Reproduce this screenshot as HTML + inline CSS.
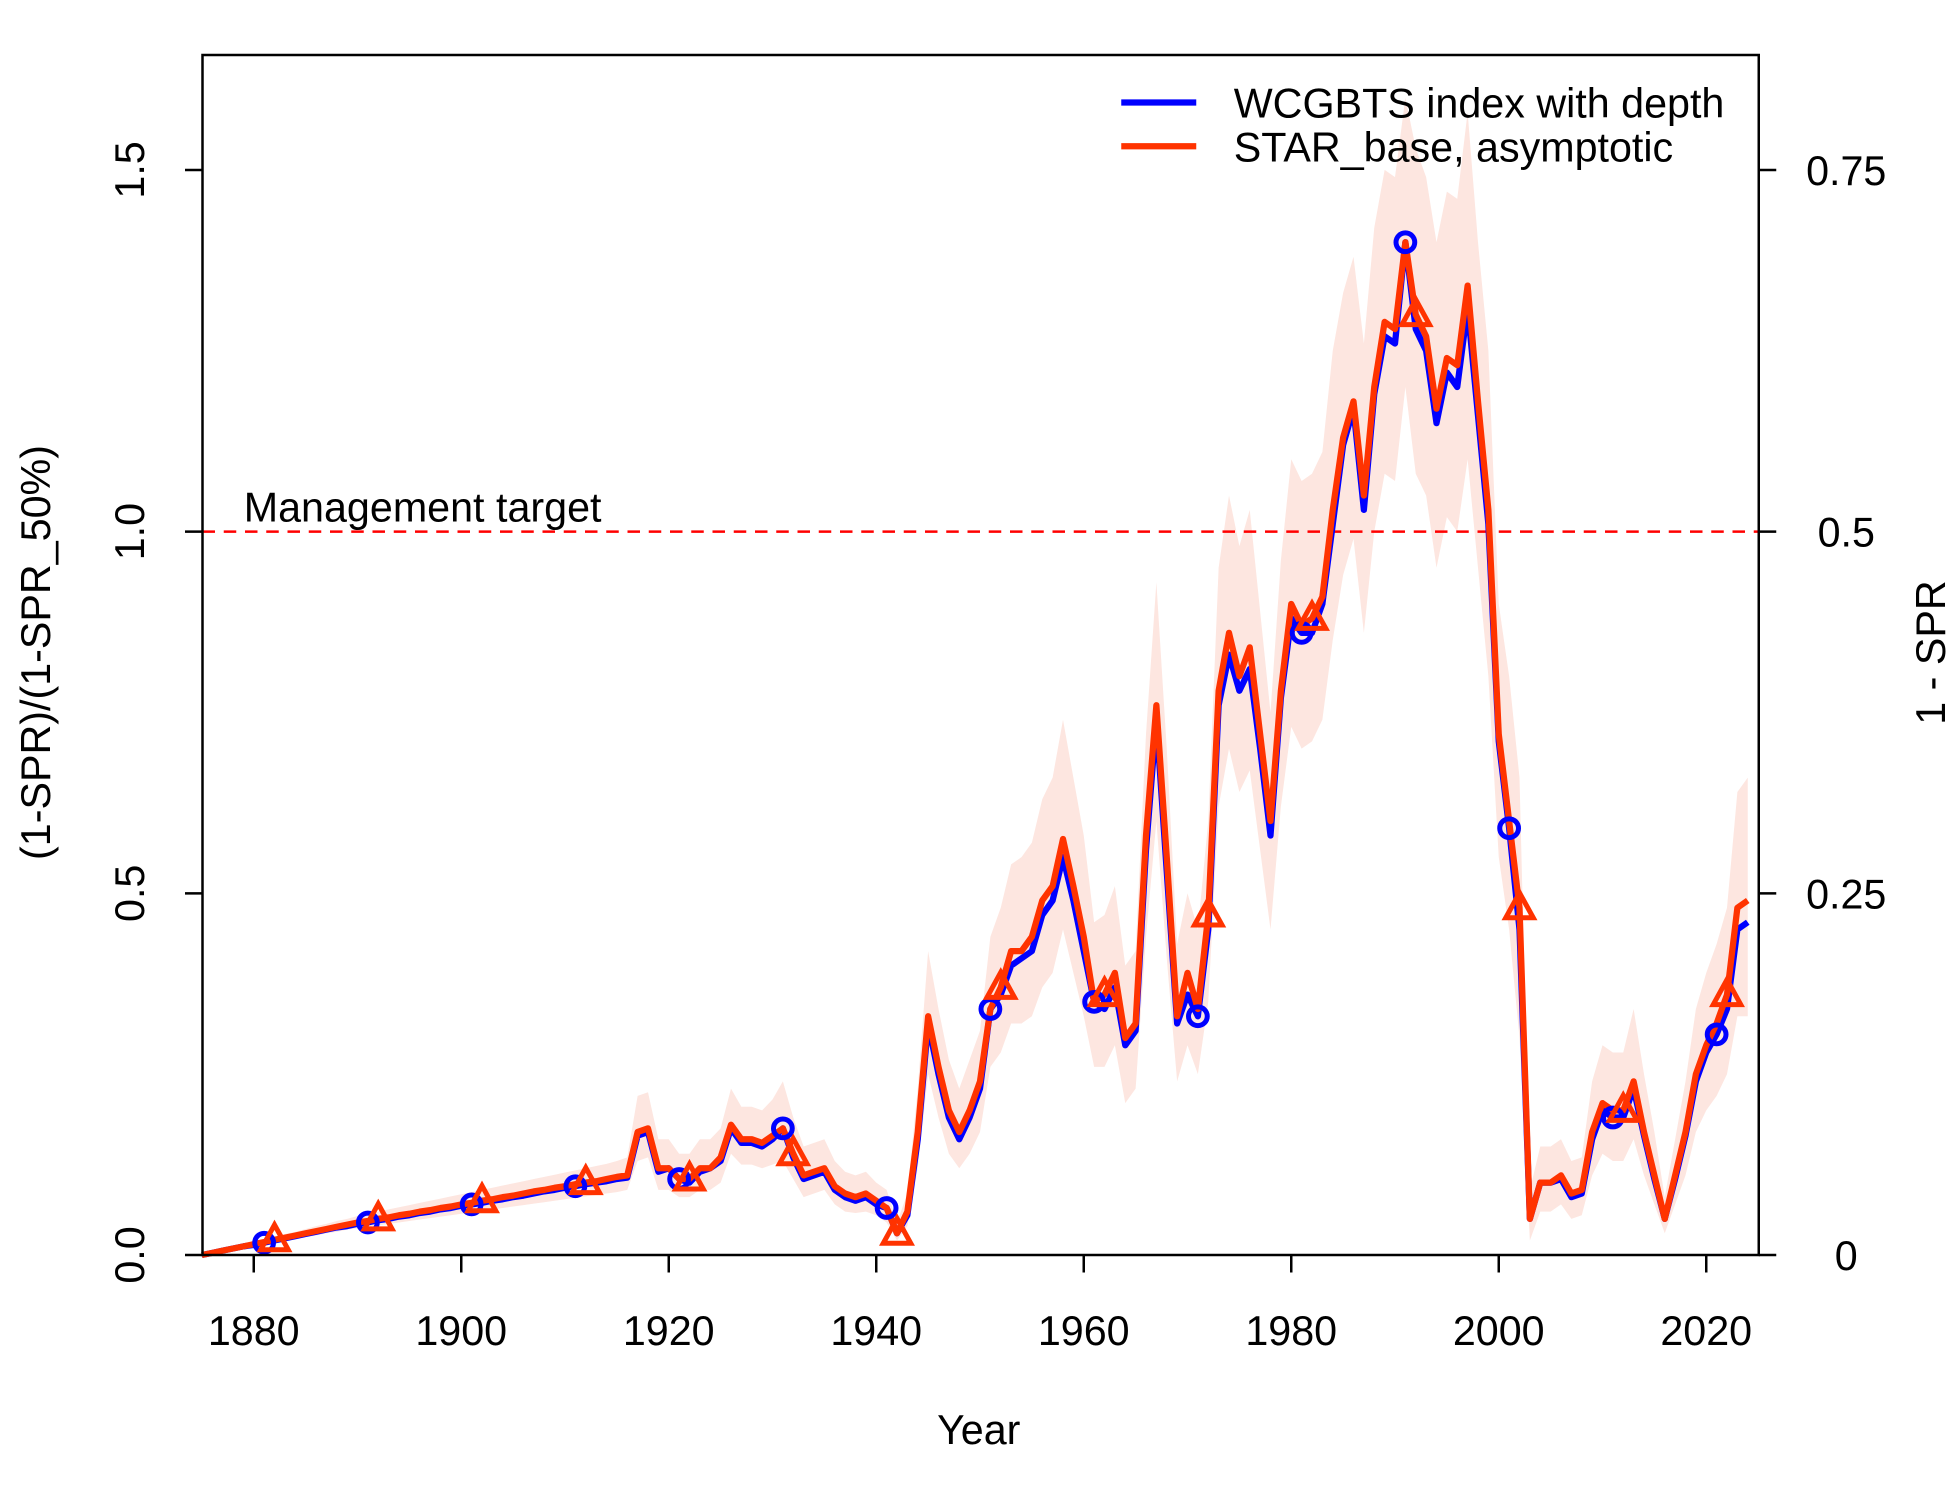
<!DOCTYPE html>
<html><head><meta charset="utf-8"><style>html,body{margin:0;padding:0;background:#fff}svg{display:block}text{font-family:"Liberation Sans",Arial,sans-serif;fill:#000}</style></head>
<body>
<svg id="chart" width="1950" height="1500" viewBox="0 0 1560 1200" xmlns="http://www.w3.org/2000/svg">
<g id="band"></g>
<g id="lines"></g>
<g id="axes"></g>
</svg>
<script>
const years=[];for(let y=1875;y<=2024;y++)years.push(y);
const starBase=[0,0.003,0.006,0.009,0.012,0.015,0.018,0.021,0.024,0.027,0.03,0.033,0.036,0.039,0.042,0.045,0.047,0.05,0.052,0.055,0.057,0.06,0.062,0.065,0.067,0.07,0.072,0.075,0.077,0.08,0.082,0.085,0.088,0.09,0.093,0.095,0.098,0.1,0.102,0.105,0.108,
0.11,0.17,0.175,0.12,0.12,0.105,0.105,0.12,0.12,0.135,0.18,0.16,0.16,0.155,0.165,0.175,0.14,0.11,0.115,0.12,0.095,0.085,0.08,0.085,0.075,0.065,0.03,0.06,0.17,0.33,0.26,0.2,0.17,0.2,0.24,0.34,0.37,0.42,0.42,0.44,0.49,0.51,0.575,0.51,0.44,0.35,0.36,0.39,0.3,0.32,0.58,0.76,0.55,0.33,0.39,0.34,0.47,0.78,0.86,0.8,0.84,0.72,0.6,0.78,0.9,0.87,0.88,0.91,1.03,1.13,1.18,1.05,1.2,1.29,1.28,1.4,1.3,1.27,1.17,1.24,1.23,1.34,1.18,1.03,0.72,0.6,0.48,0.05,0.1,0.1,0.11,0.085,0.09,0.17,0.21,0.2,0.2,0.24,0.17,0.11,0.05,0.11,0.17,0.25,0.29,0.32,0.36,0.48,0.49];
const wcgbts=[0,0.003,0.006,0.009,0.012,0.014,0.017,0.02,0.023,0.026,0.029,0.032,0.035,0.038,0.04,0.043,0.045,0.048,0.05,0.053,0.055,0.058,0.06,0.063,0.065,0.068,0.07,0.072,0.075,0.077,0.08,0.082,0.085,0.088,0.09,0.093,0.095,0.098,0.1,0.102,0.105,
0.107,0.165,0.17,0.115,0.12,0.105,0.1,0.115,0.12,0.13,0.175,0.155,0.155,0.15,0.16,0.175,0.135,0.105,0.11,0.115,0.09,0.08,0.075,0.08,0.07,0.065,0.03,0.055,0.16,0.32,0.25,0.19,0.16,0.19,0.23,0.34,0.36,0.4,0.41,0.42,0.47,0.49,0.55,0.49,0.42,0.35,0.34,0.37,0.29,0.31,0.56,0.74,0.53,0.32,0.36,0.33,0.45,0.76,0.83,0.78,0.81,0.7,0.58,0.77,0.88,0.86,0.86,0.9,1.01,1.12,1.17,1.03,1.19,1.27,1.26,1.4,1.28,1.25,1.15,1.22,1.2,1.31,1.16,1.01,0.71,0.59,0.45,0.05,0.1,0.1,0.105,0.08,0.085,0.16,0.2,0.19,0.19,0.23,0.165,0.105,0.05,0.105,0.165,0.24,0.28,0.305,0.34,0.45,0.46];
const bandUpper=[0,0.004,0.007,0.011,0.015,0.018,0.022,0.025,0.029,0.032,0.036,0.04,0.043,0.047,0.05,0.054,0.057,0.06,0.063,0.066,0.069,0.072,0.075,0.078,0.081,0.084,0.087,0.09,0.093,0.096,0.099,0.102,0.105,0.108,0.111,0.114,0.117,0.12,0.123,0.126,0.13,
0.135,0.22,0.225,0.16,0.16,0.14,0.14,0.16,0.16,0.175,0.23,0.205,0.205,0.2,0.215,0.24,0.19,0.15,0.155,0.16,0.13,0.115,0.11,0.115,0.1,0.09,0.045,0.085,0.23,0.42,0.34,0.27,0.23,0.27,0.31,0.44,0.48,0.54,0.55,0.57,0.63,0.66,0.74,0.66,0.58,0.46,0.47,0.51,0.4,0.42,0.72,0.93,0.7,0.43,0.5,0.45,0.6,0.95,1.05,0.98,1.03,0.89,0.75,0.96,1.1,1.07,1.08,1.11,1.25,1.33,1.38,1.26,1.42,1.5,1.49,1.6,1.53,1.49,1.4,1.47,1.46,1.58,1.4,1.25,0.9,0.8,0.66,0.09,0.15,0.15,0.16,0.13,0.135,0.24,0.29,0.28,0.28,0.34,0.25,0.17,0.08,0.16,0.24,0.34,0.39,0.43,0.48,0.64,0.66];
const bandLower=[0,0.002,0.005,0.007,0.01,0.012,0.015,0.017,0.02,0.022,0.025,0.027,0.03,0.032,0.035,0.037,0.039,0.041,0.043,0.045,0.047,0.049,0.051,0.053,0.055,0.057,0.059,0.061,0.063,0.065,0.067,0.069,0.071,0.073,0.075,0.077,0.079,0.081,0.083,0.085,0.087,
0.09,0.13,0.135,0.09,0.09,0.08,0.08,0.09,0.09,0.1,0.14,0.125,0.125,0.12,0.125,0.13,0.105,0.08,0.085,0.09,0.07,0.06,0.058,0.06,0.055,0.045,0.02,0.04,0.12,0.25,0.19,0.14,0.12,0.14,0.17,0.26,0.28,0.32,0.32,0.33,0.37,0.39,0.45,0.39,0.33,0.26,0.26,0.29,0.21,0.23,0.44,0.6,0.41,0.24,0.29,0.25,0.35,0.62,0.7,0.64,0.67,0.56,0.45,0.62,0.73,0.7,0.71,0.74,0.85,0.94,0.99,0.86,1.0,1.08,1.07,1.2,1.08,1.05,0.95,1.02,1.0,1.1,0.95,0.8,0.55,0.45,0.3,0.02,0.06,0.06,0.07,0.05,0.055,0.11,0.14,0.13,0.13,0.16,0.11,0.07,0.03,0.07,0.11,0.17,0.2,0.22,0.25,0.33,0.33];
const xTicks=[1880,1900,1920,1940,1960,1980,2000,2020];
const yTicksLeft=[0,0.5,1.0,1.5];
const yTickLabelsLeft=["0.0","0.5","1.0","1.5"];
const yTickLabelsRight=["0","0.25","0.5","0.75"];
const targetValue=1.0;

const NS="http://www.w3.org/2000/svg";
const L=162,R=1407,T=44,B=1004,FS=33;
const xS=y=>203+(y-1880)*8.3;
const yS=v=>B-v*578.7;
function mk(tag,attrs,parent,text){const e=document.createElementNS(NS,tag);for(const k in attrs)e.setAttribute(k,attrs[k]);if(text!==undefined)e.textContent=text;parent.appendChild(e);return e;}
const band=document.getElementById('band'),lines=document.getElementById('lines'),axes=document.getElementById('axes');

let d="";years.forEach((y,i)=>{d+=(i?"L":"M")+xS(y).toFixed(1)+","+yS(bandUpper[i]).toFixed(1);});
for(let i=years.length-1;i>=0;i--)d+="L"+xS(years[i]).toFixed(1)+","+yS(bandLower[i]).toFixed(1);
const bp=mk('path',{d:d+"Z",fill:"#fde6e0",stroke:"none"},band);



const tl=mk('line',{x1:L,x2:R,y1:yS(targetValue),y2:yS(targetValue),stroke:"#ff0000","stroke-width":2,"stroke-dasharray":"10,7"},lines);


const tt=mk('text',{x:195,y:yS(targetValue)-8,"font-size":FS},lines,"Management target");



function series(vals,color,name){let p="";years.forEach((y,i)=>{p+=(i?"L":"M")+xS(y).toFixed(1)+","+yS(vals[i]).toFixed(1);});
const e=mk('path',{d:p,fill:"none",stroke:color,"stroke-width":5,"stroke-linejoin":"round"},lines);

}
series(wcgbts,"#0000ff","wcgbts-line");
series(starBase,"#ff3300","star-base-line");
years.forEach((y,i)=>{
 if((y-1881)%10===0){const c=mk('circle',{cx:xS(y),cy:yS(wcgbts[i]),r:7.5,fill:"none",stroke:"#0000ff","stroke-width":4},lines);
 
 }
 if((y-1882)%10===0){const cx=xS(y),cy=yS(starBase[i]);const t=mk('polygon',{points:`${cx},${cy-12} ${cx-11},${cy+8} ${cx+11},${cy+8}`,fill:"none",stroke:"#ff3300","stroke-width":4},lines);
 
 }
});

const box=mk('rect',{x:L,y:T,width:R-L,height:B-T,fill:"none",stroke:"#000","stroke-width":2},axes);


xTicks.forEach(t=>{const x=xS(t);mk('line',{x1:x,x2:x,y1:B,y2:B+14,stroke:"#000","stroke-width":2},axes);
 const lb=mk('text',{x:x,y:1076,"font-size":FS,"text-anchor":"middle"},axes,String(t));
 
 });
yTicksLeft.forEach((v,i)=>{const y=yS(v);mk('line',{x1:L-14,x2:L,y1:y,y2:y,stroke:"#000","stroke-width":2},axes);
 mk('line',{x1:R,x2:R+14,y1:y,y2:y,stroke:"#000","stroke-width":2},axes);
 const lb=mk('text',{x:115,y:y,"font-size":FS,"text-anchor":"middle",transform:`rotate(-90 115 ${y})`},axes,yTickLabelsLeft[i]);
 
 
 const rb=mk('text',{x:1477,y:y+12,"font-size":FS,"text-anchor":"middle"},axes,yTickLabelsRight[i]);
 
 });
const xt=mk('text',{x:783,y:1155,"font-size":FS,"text-anchor":"middle"},axes,"Year");


const ylt=mk('text',{x:40,y:522,"font-size":FS,"text-anchor":"middle",transform:"rotate(-90 40 522)"},axes,"(1-SPR)/(1-SPR_50%)");


const yrt=mk('text',{x:1556,y:522,"font-size":FS,"text-anchor":"middle",transform:"rotate(-90 1556 522)"},axes,"1 - SPR");


[["#0000ff","WCGBTS index with depth",82],["#ff3300","STAR_base, asymptotic",117]].forEach(([c,t,y])=>{
 const g=mk('g',{},axes);
 
 
 mk('line',{x1:897,x2:957,y1:y,y2:y,stroke:c,"stroke-width":5},g);
 mk('text',{x:987,y:y+12,"font-size":FS},g,t);});
</script>
</body></html>
